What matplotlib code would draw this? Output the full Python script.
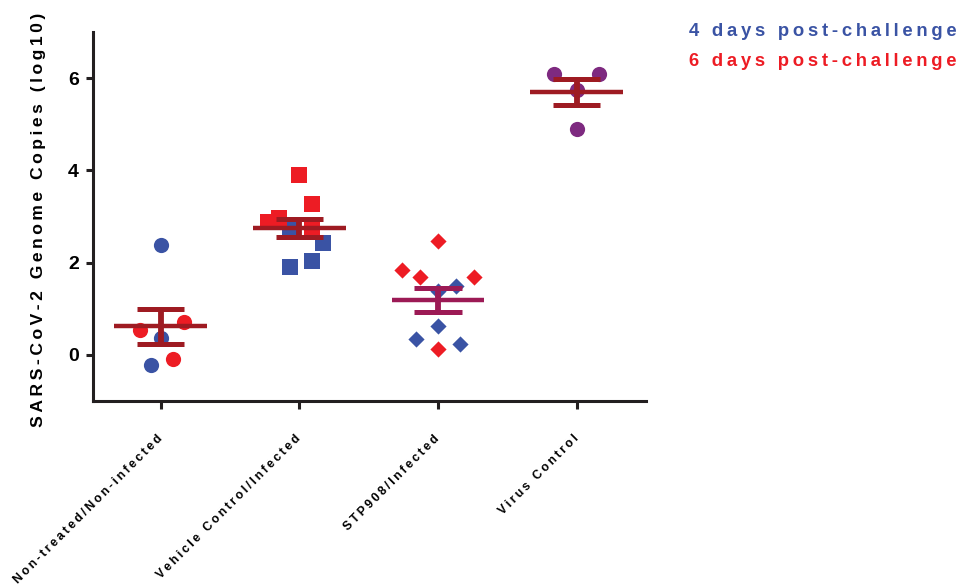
import numpy as np
import matplotlib
matplotlib.use('Agg')
from matplotlib import pyplot as plt

plt.rcParams['font.family'] = ['Liberation Sans', 'DejaVu Sans']
plt.rcParams['font.weight'] = 'bold'

categories = ['Non-treated/Non-infected', 'Vehicle Control/Infected', 'STP908/Infected', 'Virus Control']

# log10 genome copies, per group
day4_values = [[2.39, 0.37, -0.23], [1.90, 2.03, 2.43, 2.70], [1.39, 1.48, 0.63, 0.34, 0.24], []]
day4_jitter = [[0.0, 0.0, -0.07], [-0.07, 0.09, 0.17, -0.07], [0.0, 0.13, 0.0, -0.16, 0.16], []]
day6_values = [[0.53, 0.71, -0.09], [2.87, 2.96, 3.89, 3.28, 2.70], [2.46, 1.83, 1.69, 1.69, 0.13], []]
day6_jitter = [[-0.15, 0.17, 0.09], [-0.23, -0.15, 0.0, 0.09, 0.09], [0.0, -0.26, -0.13, 0.26, 0.0], []]
control_values = [6.09, 6.09, 5.75, 4.90]
control_jitter = [-0.16, 0.16, 0.0, 0.0]

markers = ['o', 's', 'D', 'o']
sizes = [120, 125, 68, 120]
bar_colors = ['#9E1B22', '#9E1B22', '#9C1A55', '#9E1B22']
BLUE = '#3A53A4'
RED = '#ED1C24'
PURPLE = '#7E2A80'


def track(s, sep='\u2009'):
    return sep.join(s)


fig = plt.figure(figsize=(9.67, 5.85), dpi=100)
ax = fig.add_axes([0.096, 0.315, 0.572, 0.63])

for i in range(len(categories)):
    if day4_values[i]:
        ax.scatter(np.array(day4_jitter[i]) + i, day4_values[i], marker=markers[i], s=sizes[i],
                   color=BLUE, linewidths=0, zorder=2)
    if day6_values[i]:
        ax.scatter(np.array(day6_jitter[i]) + i, day6_values[i], marker=markers[i], s=sizes[i],
                   color=RED, linewidths=0, zorder=2)

ax.scatter(np.array(control_jitter) + 3, control_values, marker='o', s=sizes[3],
           color=PURPLE, linewidths=0, zorder=2)

# mean and SEM per group
for i in range(len(categories)):
    vals = np.array(day4_values[i] + day6_values[i]) if i < 3 else np.array(control_values)
    m = vals.mean()
    sem = vals.std(ddof=1) / np.sqrt(len(vals))
    c = bar_colors[i]
    ax.hlines(m, i - 0.335, i + 0.335, color=c, lw=3.2, zorder=3)
    ax.hlines([m - sem, m + sem], i - 0.17, i + 0.17, color=c, lw=3.6, zorder=3)
    ax.vlines(i, m - sem, m + sem, color=c, lw=4.2, zorder=3)

ax.set_xlim(-0.49, 3.5)
ax.set_ylim(-1, 7)
ax.set_yticks([0, 2, 4, 6])
ax.set_yticklabels(['0', '2', '4', '6'], fontsize=14, fontweight='bold')
ax.set_xticks(range(len(categories)))
ax.set_xticklabels([track(c) for c in categories], rotation=45, ha='right', va='center',
                   rotation_mode='anchor', fontsize=8.8, fontweight='bold')
ax.tick_params(axis='x', length=6, width=2.2, pad=20, color='#231F20')
ax.tick_params(axis='y', length=5, width=2.2, pad=5, color='#231F20')
ax.set_ylabel(track('SARS-CoV-2 Genome Copies (log10)'), fontsize=12.6, fontweight='bold')
ax.yaxis.set_label_coords(-0.085, 0.49)

for side in ['top', 'right']:
    ax.spines[side].set_visible(False)
for side in ['left', 'bottom']:
    ax.spines[side].set_linewidth(2.2)
    ax.spines[side].set_color('#231F20')

fig.text(0.713, 1 - 31 / 585, track('4 days post-challenge'), color=BLUE,
         fontsize=13.3, fontweight='bold', va='center', ha='left')
fig.text(0.713, 1 - 61 / 585, track('6 days post-challenge'), color=RED,
         fontsize=13.3, fontweight='bold', va='center', ha='left')

fig.savefig('out.png', dpi=100)
